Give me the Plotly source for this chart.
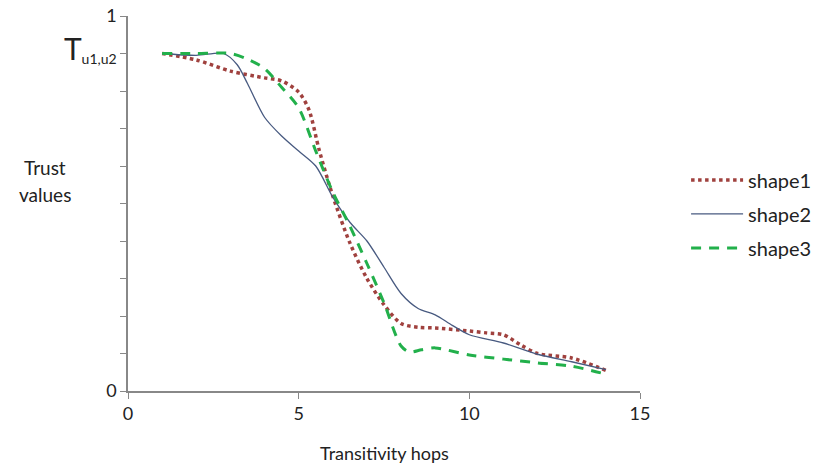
import plotly.graph_objects as go

# Data
hops1 = [1, 2, 3, 4, 4.5, 5, 5.3, 5.6, 6, 6.5, 7, 7.5, 8, 8.5, 9, 10, 10.5, 11, 11.5, 12, 13, 14]
shape1 = [0.9, 0.883, 0.853, 0.835, 0.827, 0.797, 0.75, 0.643, 0.52, 0.395, 0.30, 0.23, 0.18, 0.17, 0.168, 0.16, 0.155, 0.15, 0.123, 0.10, 0.088, 0.055]

hops2 = [1, 2, 2.8, 3.2, 3.5, 4, 4.5, 5, 5.5, 6, 6.5, 7, 7.5, 8, 8.5, 9, 9.5, 10, 11, 12, 13, 14]
shape2 = [0.9, 0.895, 0.9, 0.87, 0.82, 0.73, 0.68, 0.64, 0.60, 0.517, 0.45, 0.40, 0.33, 0.26, 0.22, 0.203, 0.175, 0.15, 0.128, 0.098, 0.078, 0.057]

hops3 = [1, 2, 3, 3.5, 4, 4.5, 5, 5.5, 6, 6.5, 7, 7.5, 8, 8.25, 8.6, 9, 10, 11, 12, 13, 14]
shape3 = [0.9, 0.9, 0.9, 0.885, 0.86, 0.81, 0.755, 0.64, 0.53, 0.44, 0.34, 0.235, 0.12, 0.104, 0.11, 0.115, 0.096, 0.085, 0.075, 0.066, 0.045]

names = ["shape1", "shape2", "shape3"]
x_ticks = [0, 5, 10, 15]
y_tickvals = [0, 0.9, 1]
y_ticktext = ["0",
              "<span style='font-size:30px'>T</span><sub><span style='font-size:14px'>u1,u2</span></sub>",
              "1"]

FONT = "Lato, 'Open Sans', sans-serif"
AX = "#888888"

fig = go.Figure()
fig.add_trace(go.Scatter(x=hops1, y=shape1, mode="lines", name=names[0],
                         line=dict(color="#A0413E", width=3.5, dash="dot", shape="spline", smoothing=0.8),
                         legendgroup="a"))
fig.add_trace(go.Scatter(x=hops2, y=shape2, mode="lines", name=names[1],
                         line=dict(color="#485A80", width=1.3, shape="spline", smoothing=0.8),
                         legendgroup="b"))
fig.add_trace(go.Scatter(x=hops3, y=shape3, mode="lines", name=names[2],
                         line=dict(color="#22B04B", width=3, dash="10px,8px", shape="spline", smoothing=0.8),
                         legendgroup="c"))

fig.update_layout(
    width=824, height=473,
    margin=dict(l=128, r=184, t=16, b=82, autoexpand=False),
    paper_bgcolor="white", plot_bgcolor="white",
    font=dict(family=FONT, size=18, color="#222222"),
    showlegend=True,
    legend=dict(x=1.09, y=0.615, xanchor="left", yanchor="top",
                font=dict(size=20), tracegroupgap=5, traceorder="grouped",
                itemwidth=52),
    xaxis=dict(range=[0, 15], tickvals=x_ticks, showgrid=False, zeroline=False,
               showline=True, linecolor=AX, linewidth=1.5, ticks="outside",
               ticklen=6, tickcolor=AX, tickfont=dict(size=18), automargin=False),
    yaxis=dict(range=[0, 1], tickvals=y_tickvals, ticktext=y_ticktext, showgrid=False,
               zeroline=False, showline=True, linecolor=AX, linewidth=1.5,
               ticks="outside", ticklen=6, tickcolor=AX, tickfont=dict(size=18),
               automargin=False,
               minor=dict(tick0=0, dtick=0.1, ticks="outside", ticklen=6,
                          tickcolor=AX, showgrid=False)),
    annotations=[
        dict(text="Trust", x=-0.162, y=0.597, xref="paper", yref="paper",
             xanchor="center", yanchor="middle", showarrow=False, font=dict(size=19)),
        dict(text="values", x=-0.162, y=0.523, xref="paper", yref="paper",
             xanchor="center", yanchor="middle", showarrow=False, font=dict(size=19)),
        dict(text="Transitivity hops", x=0.5, y=-0.165, xref="paper", yref="paper",
             xanchor="center", yanchor="middle", showarrow=False, font=dict(size=18)),
    ],
)

fig.write_html("out.html", config={"displayModeBar": False},
               post_script="document.body.style.margin='0';")
